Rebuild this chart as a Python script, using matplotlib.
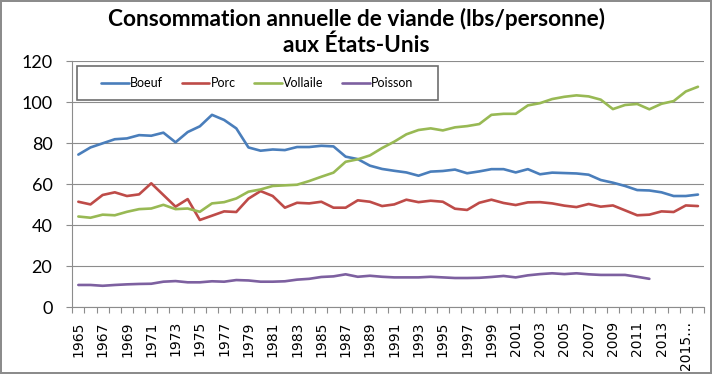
import matplotlib
matplotlib.use("Agg")
import matplotlib.pyplot as plt
from matplotlib.patches import Rectangle
import numpy as np

# Data (lbs per person)
years = list(range(1965, 2017))

boeuf = [74.5, 78.0, 80.0, 82.0, 82.4, 84.0, 83.7, 85.2, 80.5, 85.5,
         88.3, 93.9, 91.4, 87.3, 78.0, 76.4, 77.0, 76.7, 78.2, 78.2,
         78.8, 78.5, 73.5, 72.3, 69.1, 67.5, 66.6, 65.8, 64.2, 66.2,
         66.5, 67.2, 65.4, 66.3, 67.4, 67.4, 65.8, 67.4, 64.9, 65.7,
         65.5, 65.3, 64.7, 62.1, 60.8, 59.2, 57.2, 57.0, 56.1, 54.3,
         54.3, 55.0]

porc = [51.5, 50.2, 54.8, 56.1, 54.3, 55.1, 60.5, 54.8, 49.1, 52.8,
        42.6, 44.7, 46.8, 46.5, 53.0, 56.7, 54.3, 48.6, 51.0, 50.7,
        51.5, 48.6, 48.6, 52.2, 51.5, 49.4, 50.2, 52.5, 51.3, 52.0,
        51.5, 48.1, 47.5, 51.0, 52.5, 50.9, 49.9, 51.2, 51.3, 50.7,
        49.6, 48.9, 50.4, 49.1, 49.7, 47.3, 44.9, 45.2, 46.8, 46.5,
        49.7, 49.4]

vollaile = [44.3, 43.7, 45.2, 44.9, 46.6, 47.9, 48.2, 50.0, 47.9, 48.2,
            46.6, 50.7, 51.3, 53.1, 56.4, 57.5, 59.2, 59.5, 59.8, 61.6,
            63.7, 65.7, 71.0, 72.2, 74.1, 77.7, 80.8, 84.4, 86.5, 87.3,
            86.3, 87.8, 88.4, 89.4, 93.9, 94.4, 94.4, 98.5, 99.6, 101.6,
            102.7, 103.4, 102.9, 101.3, 96.7, 98.7, 99.2, 96.6, 99.3, 100.6,
            105.3, 107.6]

# no fish data after 2012
poisson = [10.9, 10.9, 10.5, 10.9, 11.2, 11.4, 11.5, 12.5, 12.8, 12.2,
           12.2, 12.7, 12.5, 13.3, 13.1, 12.5, 12.5, 12.7, 13.5, 13.9,
           14.8, 15.1, 16.1, 14.9, 15.4, 14.9, 14.6, 14.6, 14.6, 14.9,
           14.6, 14.3, 14.3, 14.4, 14.8, 15.3, 14.6, 15.6, 16.2, 16.6,
           16.2, 16.6, 16.1, 15.8, 15.8, 15.8, 14.9, 13.9,
           None, None, None, None]

series = ["Boeuf", "Porc", "Vollaile", "Poisson"]
colors = ["#4A7EBB", "#BE4B48", "#98B954", "#7D60A0"]

# x labels every second year, last one truncated like in the original
tick_labels = [str(y) for y in years[::2]]
tick_labels[-1] = "2015…"

grid_color = "#8C8C8C"
main_font = "Lato"

fig = plt.figure(figsize=(7.12, 3.74), dpi=100)
fig.patch.set_edgecolor("#8C8C8C")
fig.patch.set_linewidth(1.5)
ax = fig.add_axes([0.1015, 0.1783, 0.8873, 0.6577])

x = np.arange(len(years))
for name, vals, c in zip(series, [boeuf, porc, vollaile, poisson], colors):
    y = np.array([np.nan if v is None else v for v in vals], dtype=float)
    ax.plot(x, y, color=c, linewidth=1.9, label=name, solid_capstyle="round")

ax.set_xlim(-0.5, len(years) - 0.5)
ax.set_ylim(0, 120)
ax.set_yticks(range(0, 121, 20))
ax.yaxis.grid(True, color=grid_color, linewidth=0.8)
ax.set_axisbelow(True)

ax.set_xticks(x[::2])
ax.set_xticklabels(tick_labels, rotation=90, fontsize=10, family="DejaVu Sans")
ax.set_xticks(np.arange(-0.5, len(years), 1), minor=True)
ax.tick_params(axis="x", which="major", length=0, pad=10)
ax.tick_params(axis="x", which="minor", length=4.3, color=grid_color, width=0.8)
ax.tick_params(axis="y", length=4.3, color=grid_color, width=0.8, pad=10,
               labelsize=13)
for lab in ax.get_yticklabels():
    lab.set_family(main_font)

for side in ["top", "right"]:
    ax.spines[side].set_visible(False)
for side in ["left", "bottom"]:
    ax.spines[side].set_color(grid_color)
    ax.spines[side].set_linewidth(0.8)

# legend box drawn by hand so the padding matches the original
ax.add_patch(Rectangle((0.0074, 0.843), 0.5716, 0.138, transform=ax.transAxes,
                       facecolor="white", edgecolor="#6E6E6E", linewidth=1.2,
                       zorder=3))
ax.legend(loc="center left", bbox_to_anchor=(0.028, 0.912), ncol=4,
          frameon=False, handlelength=2.2, handletextpad=0.1,
          columnspacing=1.5, prop={"family": main_font, "size": 9})

fig.text(0.5, 0.978, "Consommation annuelle de viande (lbs/personne)\naux États-Unis",
         ha="center", va="top", fontsize=16.3, fontweight="bold",
         family=main_font, linespacing=1.22)

fig.savefig("out.png", dpi=100)
